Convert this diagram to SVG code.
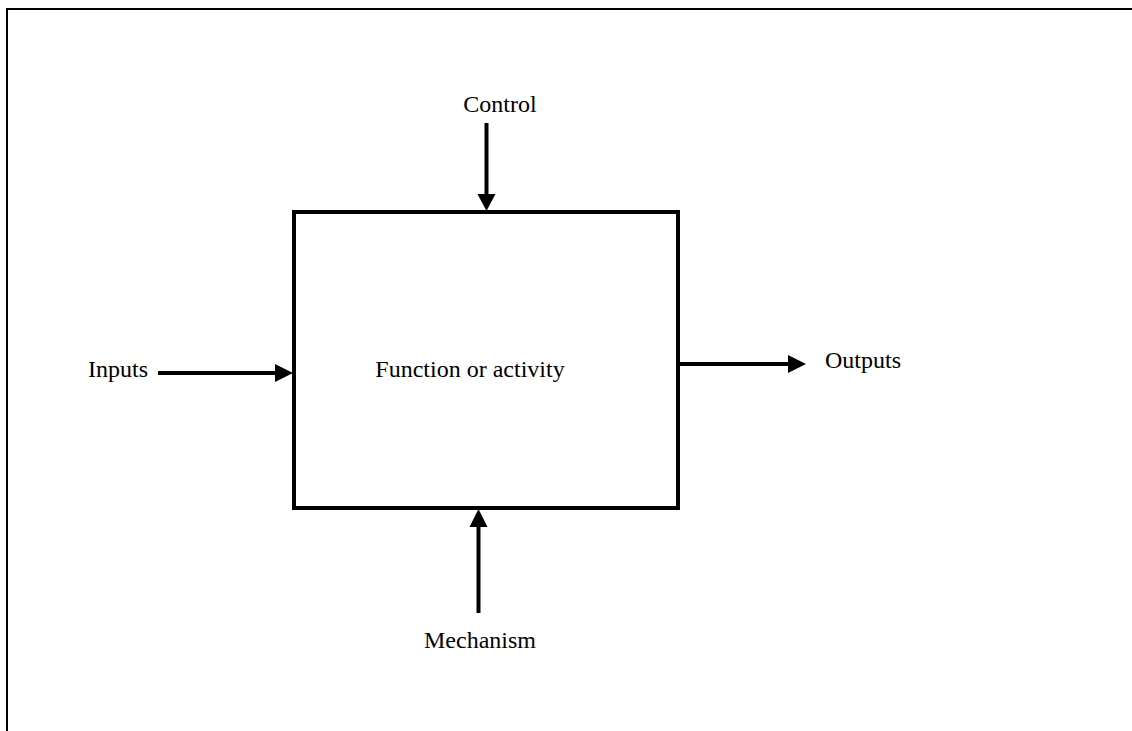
<svg xmlns="http://www.w3.org/2000/svg" width="1132" height="731" viewBox="0 0 1132 731">
  <style>
    .lbl { font-family: "Liberation Serif", "Times New Roman", serif; font-size: 24px; fill: #000; }
    .conn { stroke: #000; stroke-width: 4; fill: none; }
    .head { fill: #000; stroke: none; }
  </style>
  <rect x="0" y="0" width="1132" height="731" fill="#fff"/>
  <g id="frame">
    <path d="M7,731 V9 H1132" fill="none" stroke="#000" stroke-width="2"/>
  </g>
  <g id="function">
    <rect x="294" y="212" width="384" height="296" fill="#fff" stroke="#000" stroke-width="4"/>
    <text class="lbl" x="470" y="377" text-anchor="middle">Function or activity</text>
  </g>
  <g id="control">
    <text class="lbl" x="500" y="112" text-anchor="middle">Control</text>
  </g>
  <g id="inputs">
    <text class="lbl" x="88" y="377">Inputs</text>
  </g>
  <g id="outputs">
    <text class="lbl" x="825" y="368">Outputs</text>
  </g>
  <g id="mechanism">
    <text class="lbl" x="480" y="648" text-anchor="middle">Mechanism</text>
  </g>
  <g id="connectors">
    <line class="conn" x1="486.5" y1="123" x2="486.5" y2="195"/>
    <polygon class="head" points="477.5,194 495.5,194 486.5,211"/>
    <line class="conn" x1="158" y1="373" x2="276" y2="373"/>
    <polygon class="head" points="275,364 275,382 293,373"/>
    <line class="conn" x1="680" y1="364" x2="790" y2="364"/>
    <polygon class="head" points="788,355 788,373 806,364"/>
    <line class="conn" x1="478.5" y1="613" x2="478.5" y2="526"/>
    <polygon class="head" points="469.5,527 487.5,527 478.5,509"/>
  </g>
</svg>
